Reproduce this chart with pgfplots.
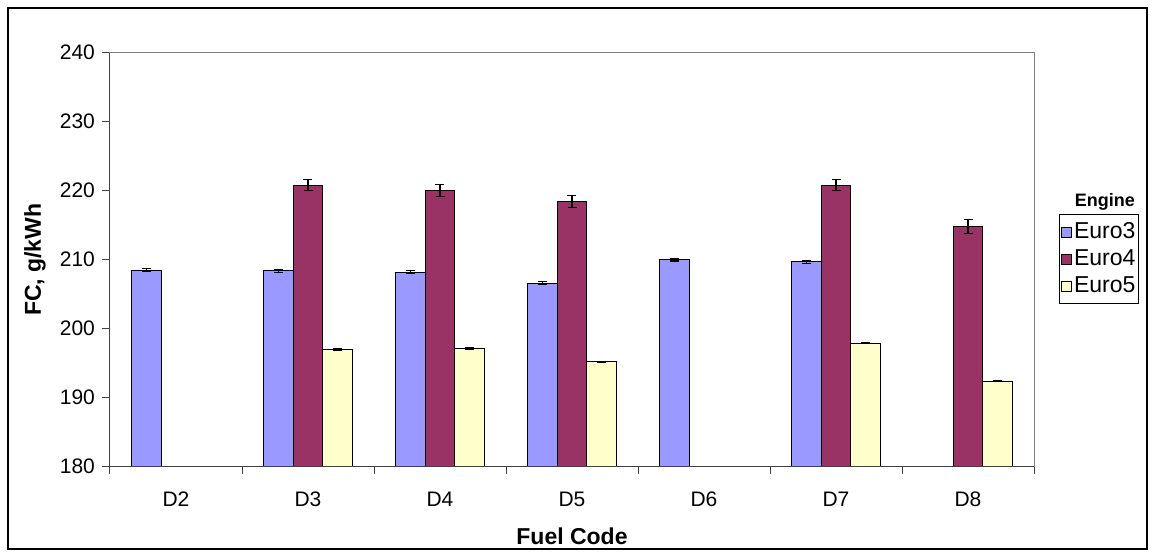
\documentclass[border=0pt]{standalone}
\usepackage{pgfplots}
\pgfplotsset{compat=1.18}
\usepackage{fontspec}
\setmainfont{Liberation Sans}
\definecolor{euroA}{HTML}{9999FF}
\definecolor{euroB}{HTML}{993366}
\definecolor{euroC}{HTML}{FFFFCC}
\definecolor{axgray}{HTML}{808080}
\begin{document}
\begin{tikzpicture}
\useasboundingbox (-55pt,-43.65pt) rectangle (522pt,233.35pt);
\draw[line width=1pt] (-51pt,-41.15pt) rectangle (518.5pt,229.35pt);
\begin{axis}[
  at={(0pt,0pt)}, anchor=south west,
  scale only axis, width=462pt, height=207pt,
  clip=false,
  xmin=-0.5, xmax=6.5, ymin=180, ymax=240,
  ytick={180,190,...,240},
  xtick={0,...,6}, xticklabels={D2,D3,D4,D5,D6,D7,D8},
  minor xtick={-0.5,0.5,...,6.5},
  major x tick style={draw=none},
  minor x tick style={draw=black!75, line width=0.5pt},
  y tick style={draw=black!75, line width=0.5pt},
  tick align=outside, major tick length=4pt, minor tick length=3.5pt,
  ytick pos=left, xtick pos=bottom,
  axis line style={draw=axgray, line width=0.5pt},
  tick label style={font=\fontsize{10.5}{12}\selectfont},
  xticklabel style={yshift=-5pt},
  /pgf/number format/assume math mode=true,
  xlabel={\textbf{Fuel Code}},
  ylabel={\textbf{FC, g/kWh}},
  label style={font=\fontsize{11.5}{13}\selectfont},
  xlabel style={at={(axis description cs:0.5,-0.1674)}, anchor=center},
  ylabel style={at={(axis description cs:-0.0812,0.5)}, anchor=center, rotate=0},
  ybar=0pt, bar width=0.2235,
  legend image code/.code={\draw[#1, draw=black, line width=0.4pt] (0pt,-2.5pt) rectangle (5pt,2.5pt);},
  legend cell align=left,
  legend style={at={(rel axis cs:1.0274,0.6097)}, anchor=north west,
    draw=black, line width=0.5pt, font=\fontsize{11.5}{13}\selectfont,
    row sep=0pt, inner xsep=0.5pt, inner ysep=2pt,
    nodes={inner xsep=1.2pt, inner ysep=2pt}},
  error bars/error bar style={black, line width=0.6pt},
  error bars/error mark options={black, rotate=90, mark size=2.25pt, line width=0.6pt},
]
\addplot[fill=euroA, draw=black, line width=0.5pt, bar shift=-0.2235,
  error bars/.cd, y dir=both, y explicit] coordinates {
  (0,208.5) +- (0,0.2)
  (1,208.4) +- (0,0.2)
  (2,208.2) +- (0,0.2)
  (3,206.6) +- (0,0.2)
  (4,210.0) +- (0,0.2)
  (5,209.7) +- (0,0.2)
};
\addlegendentry{Euro3}
\addplot[fill=euroB, draw=black, line width=0.5pt, bar shift=0,
  error bars/.cd, y dir=both, y explicit] coordinates {
  (1,220.8) +- (0,0.8)
  (2,220.0) +- (0,0.85)
  (3,218.4) +- (0,0.85)
  (5,220.8) +- (0,0.8)
  (6,214.8) +- (0,1.0)
};
\addlegendentry{Euro4}
\addplot[fill=euroC, draw=black, line width=0.5pt, bar shift=0.2235,
  error bars/.cd, y dir=both, y explicit] coordinates {
  (1,197.0) +- (0,0.1)
  (2,197.1) +- (0,0.1)
  (3,195.2) +- (0,0.1)
  (5,197.9) +- (0,0.1)
  (6,192.4) +- (0,0.1)
};
\addlegendentry{Euro5}
\draw[black!75, line width=0.5pt] (rel axis cs:0,1) -- (rel axis cs:0,0) -- (rel axis cs:1,0);
\node[font=\bfseries\fontsize{9}{10}\selectfont] at (rel axis cs:1.0768,0.640) {Engine};
\end{axis}
\end{tikzpicture}
\end{document}
